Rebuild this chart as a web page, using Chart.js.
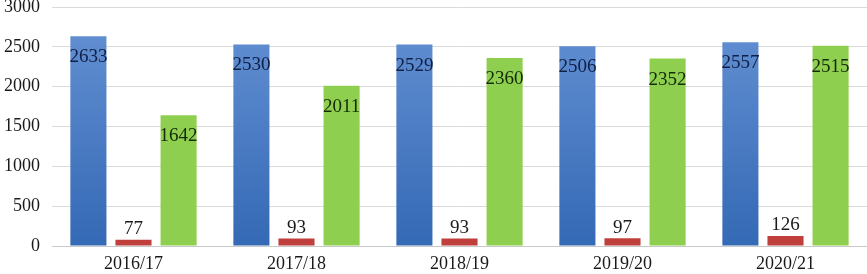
<!DOCTYPE html>
<html>
<head>
<meta charset="utf-8">
<script src="https://cdn.jsdelivr.net/npm/chart.js@4"></script>
<style>
  html, body { margin: 0; padding: 0; background: #fff; }
  #wrap { width: 867px; height: 274px; position: relative; }
</style>
</head>
<body>
<div id="wrap"><canvas id="barChart"></canvas></div>
<script>
// Data
const years = ['2016/17', '2017/18', '2018/19', '2019/20', '2020/21'];
const blueValues = [2633, 2530, 2529, 2506, 2557];
const redValues = [77, 93, 93, 97, 126];
const greenValues = [1642, 2011, 2360, 2352, 2515];
const yTicks = [0, 500, 1000, 1500, 2000, 2500, 3000];

const FONT = "'Liberation Serif', 'Times New Roman', serif";

// vertical gradient for a bar fill, dark at the bottom
function barGradient(top, bottom) {
    return function (context) {
        const area = context.chart.chartArea;
        if (!area) return bottom;
        const g = context.chart.ctx.createLinearGradient(0, area.bottom, 0, area.top);
        g.addColorStop(0, bottom);
        g.addColorStop(1, top);
        return g;
    };
}

// draws the value labels: inside the top for tall bars, above for the small ones
const valueLabels = {
    id: 'valueLabels',
    afterDatasetsDraw(chart) {
        const ctx = chart.ctx;
        ctx.save();
        ctx.font = '19px ' + FONT;
        ctx.textAlign = 'center';
        chart.data.datasets.forEach((ds, i) => {
            const meta = chart.getDatasetMeta(i);
            meta.data.forEach((bar, j) => {
                const v = ds.data[j];
                ctx.fillStyle = ds.labelColor;
                if (ds.labelInside) {
                    ctx.textBaseline = 'middle';
                    ctx.fillText(v, bar.x, bar.y + 21);
                } else {
                    ctx.textBaseline = 'bottom';
                    ctx.fillText(v, bar.x, bar.y - 1);
                }
            });
        });
        ctx.restore();
    }
};

const ctx = document.getElementById('barChart').getContext('2d');
new Chart(ctx, {
    type: 'bar',
    data: {
        labels: years,
        datasets: [{
            data: blueValues,
            backgroundColor: barGradient('#6692d4', '#3469b5'),
            labelColor: '#0f1f45',
            labelInside: true
        }, {
            data: redValues,
            backgroundColor: barGradient('#d24a48', '#bf3f3c'),
            labelColor: '#1a1a1a',
            labelInside: false
        }, {
            data: greenValues,
            backgroundColor: '#8fcf4f',
            labelColor: '#142a05',
            labelInside: true
        }]
    },
    options: {
        responsive: true,
        maintainAspectRatio: false,
        animation: false,
        layout: { padding: { top: 7, right: 0, bottom: 0, left: 0 } },
        datasets: {
            bar: { categoryPercentage: 0.83, barPercentage: 0.8 }
        },
        plugins: {
            legend: { display: false },
            tooltip: { enabled: false }
        },
        scales: {
            x: {
                afterFit(scale) { scale.height = 28; },
                grid: { display: false },
                border: { display: true, color: '#c8c8c8' },
                ticks: {
                    color: '#1a1a1a',
                    padding: -1,
                    font: { family: FONT, size: 18 }
                }
            },
            y: {
                min: 0,
                max: 3000,
                afterFit(scale) {
                    scale.width = 52;
                    scale.paddingTop = 0;   // let the top label be clipped like the original
                    scale.paddingBottom = 0;
                },
                afterBuildTicks(scale) { scale.ticks = yTicks.map(v => ({ value: v })); },
                grid: { color: '#dadada', drawTicks: false },
                border: { display: false },
                ticks: {
                    color: '#1a1a1a',
                    padding: 12,
                    callback: v => String(v),
                    font: { family: FONT, size: 18 }
                }
            }
        }
    },
    plugins: [valueLabels]
});
</script>
</body>
</html>
